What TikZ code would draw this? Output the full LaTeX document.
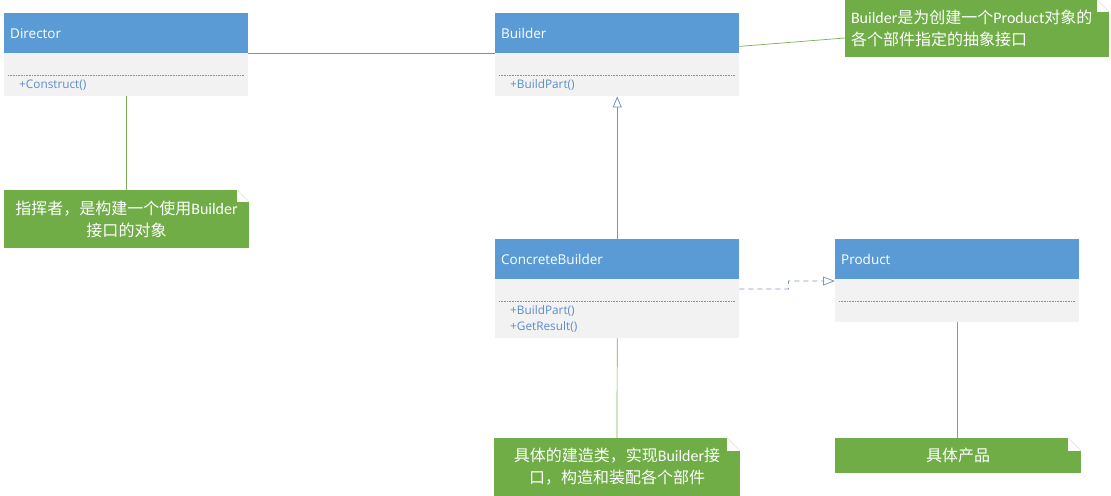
\documentclass[tikz,border=0pt]{standalone}
\usepackage{fontspec}
\setmainfont{Open Sans}
\newfontfamily\calfont{Carlito}
\newfontfamily\cjk{Noto Sans CJK SC}
\usetikzlibrary{arrows.meta,calc}
\definecolor{hblue}{HTML}{5B9BD5}
\definecolor{bgray}{HTML}{F2F2F2}
\definecolor{ngreen}{HTML}{70AD47}
\definecolor{mblue}{HTML}{5B8DC9}
\definecolor{lblue}{HTML}{6F95C4}
\definecolor{dgray}{HTML}{7F98B8}
\definecolor{gline}{HTML}{7DAF55}
\definecolor{foldc}{HTML}{E4E4E4}
\begin{document}
\begin{tikzpicture}[x=1bp,y=-1bp,
  hdr/.style={fill=hblue,text=white,anchor=north west,minimum width=244bp,minimum height=40bp,
    inner xsep=6bp,inner ysep=0pt,text width=232bp,align=left,font=\fontsize{13.5bp}{16bp}\selectfont},
  classbody/.style={fill=bgray,anchor=north west,minimum width=244bp,inner sep=0pt},
  method/.style={anchor=west,text=mblue,inner sep=0pt,font=\fontsize{11.8bp}{14bp}\selectfont},
  sepline/.style={draw=hblue,line width=0.6bp,dash pattern=on 0.8bp off 0.8bp},
  note/.style={fill=ngreen,text=white,inner sep=0pt,align=center,
    font=\calfont\fontsize{16bp}{22bp}\selectfont},
  foldline/.style={draw=foldc,line width=0.6bp},
  notelink/.style={draw=gline,line width=0.7bp},
  assoc/.style={draw=lblue,line width=0.8bp},
  gener/.style={draw=lblue,line width=0.8bp,-{Triangle[open,length=11bp,width=9bp]}},
  depend/.style={draw=dgray,line width=0.8bp,dash pattern=on 5bp off 4bp,-{Triangle[open,length=12bp,width=9bp]}}
]
\useasboundingbox (0,0) rectangle (1111,496);

% ---- classes ----
\node[hdr] (dirH) at (4,13) {Director};
\node[classbody,minimum height=43bp] (dirB) at (4,53) {};
\node[method] (dirM) at (19,85) {+Construct()};

\node[hdr] (bH) at (495,13) {Builder};
\node[classbody,minimum height=43bp] (bB) at (495,53) {};
\node[method] (bM) at (510,85) {+BuildPart()};

\node[hdr] (cbH) at (495,239) {ConcreteBuilder};
\node[classbody,minimum height=59bp] (cbB) at (495,279) {};
\node[method] (cbM1) at (510,311) {+BuildPart()};
\node[method] (cbM2) at (510,327) {+GetResult()};

\node[hdr] (pH) at (835,239) {Product};
\node[classbody,minimum height=43bp] (pB) at (835,279) {};

\foreach \b in {dirB,bB,cbB,pB}{
  \draw[sepline] ($(\b.north west)+(4,22)$) -- ($(\b.north east)+(-4,22)$);
}

% ---- notes ----
\node[note,minimum width=245bp,minimum height=58bp] (dirN) at (126.5,219)
  {{\cjk 指挥者，是构建一个使用}Builder\\{\cjk 接口的对象}};
\node[note,minimum width=264bp,minimum height=57bp,text width=252bp,inner xsep=6bp,align=left] (bN) at (977,28.5)
  {Builder{\cjk 是为创建一个}Product{\cjk 对象的}\\{\cjk 各个部件指定的抽象接口}};
\node[note,minimum width=246bp,minimum height=58bp] (cbN) at (617,467)
  {{\cjk 具体的建造类，实现}Builder{\cjk 接}\\{\cjk 口，构造和装配各个部件}};
\node[note,minimum width=246bp,minimum height=35bp] (pN) at (958,455.5)
  {{\cjk 具体产品}};

\foreach \n/\c in {dirN/12,bN/12,cbN/13,pN/13}{
  \fill[white] (\n.north east) rectangle ++(-\c,\c);
  \draw[foldline] ($(\n.north east)+(-\c,0)$) -- ($(\n.north east)+(0,\c)$);
}

% ---- connectors ----
\draw[assoc] (dirH.south east) -- (bH.south west);
\draw[notelink] (dirB.south) -- (dirB.south |- dirN.north);
\draw[notelink] ([yshift=7bp]bH.south east) -- ([yshift=-9.5bp]bN.west);
\draw[gener] (cbH.north) -- (bB.south);
\draw[depend] ([yshift=-10bp]cbB.north east) -- ++(49,0) -- ++(0,-8) -- ([yshift=-2bp]pB.north west);
\draw[notelink] (cbB.south) -- (cbN.north);
\draw[notelink] (pB.south) -- (pB.south |- pN.north);
\end{tikzpicture}
\end{document}
